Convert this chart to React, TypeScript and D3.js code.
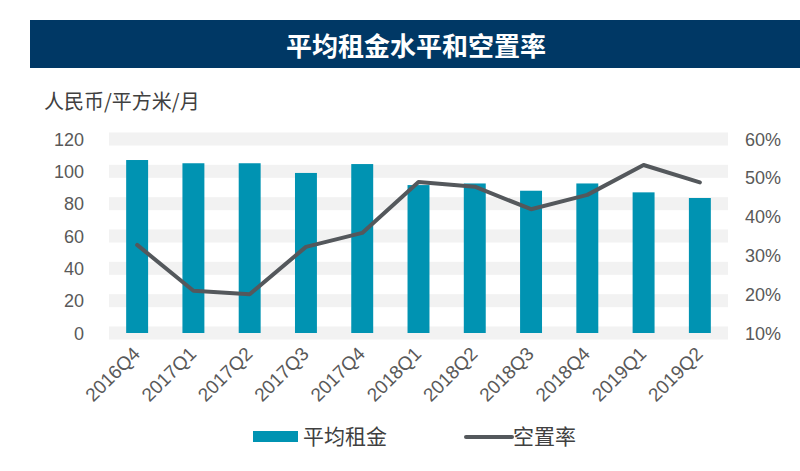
import React from "react";
import * as d3 from "d3";

const categories = ["2016Q4","2017Q1","2017Q2","2017Q3","2017Q4","2018Q1","2018Q2","2018Q3","2018Q4","2019Q1","2019Q2"];
const rentValues = [107, 105, 105, 99, 104.5, 91.5, 92.5, 88, 92.5, 87, 83.5];
const vacancyValues = [32.7, 20.9, 20.0, 32.2, 35.8, 48.9, 47.7, 41.9, 45.6, 53.3, 48.8];
const leftTicks = [0, 20, 40, 60, 80, 100, 120];
const rightTicks = [10, 20, 30, 40, 50, 60];

const W = 800, H = 471;
const plotL = 109, plotR = 728, plotT = 139, plotB = 333;
const font = "'Liberation Sans', Arial, 'Noto Sans CJK SC', sans-serif";
const cjk = "'Noto Sans CJK SC', 'Liberation Sans', sans-serif";

export default function App() {
  const x = d3.scaleBand<string>().domain(categories).range([plotL, plotR]).paddingInner(0.61).paddingOuter(0.305);
  const yL = d3.scaleLinear().domain([0, 120]).range([plotB, plotT]);
  const yR = d3.scaleLinear().domain([10, 60]).range([plotB, plotT]);
  const cx = (c: string) => (x(c) as number) + x.bandwidth() / 2;
  const line = d3.line<number>().x((_, i) => cx(categories[i])).y((d) => yR(d));

  return (
    <svg width={W} height={H} style={{ position: "absolute", left: 0, top: 0 }}>
      <rect x={0} y={0} width={W} height={H} fill="#fff" />
      <rect x={30} y={20} width={770} height={48} fill="#003865" />
      <text x={416} y={56} textAnchor="middle" fill="#fff" fontFamily={cjk} fontWeight="bold" fontSize={26}>平均租金水平和空置率</text>
      <text x={44} y={109} fill="#404040" fontFamily={cjk} fontSize={20}>人民币/平方米/月</text>
      {leftTicks.map((t) => (
        <rect key={"g" + t} x={plotL} y={yL(t) - 6.5} width={plotR - plotL} height={13} fill="#f2f2f2" />
      ))}
      {leftTicks.map((t) => (
        <text key={"l" + t} x={84} y={yL(t) + 6.5} textAnchor="end" fill="#595959" fontFamily={font} fontSize={18}>{t}</text>
      ))}
      {rightTicks.map((t) => (
        <text key={"r" + t} x={745} y={yR(t) + 6.5} textAnchor="start" fill="#595959" fontFamily={font} fontSize={18}>{t}%</text>
      ))}
      {categories.map((c, i) => (
        <rect key={"b" + c} x={x(c)} y={yL(rentValues[i])} width={x.bandwidth()} height={plotB - yL(rentValues[i])} fill="#0093b2" />
      ))}
      <path d={line(vacancyValues) || ""} fill="none" stroke="#54585c" strokeWidth={4} strokeLinejoin="round" strokeLinecap="round" />
      {categories.map((c) => (
        <text key={"x" + c} transform={`translate(${cx(c) + 4},${355}) rotate(-45)`} textAnchor="end" fill="#595959" fontFamily={font} fontSize={19}>{c}</text>
      ))}
      <rect x={253} y={431} width={45} height={11} fill="#0093b2" />
      <text x={303} y={444} fill="#404040" fontFamily={cjk} fontSize={21}>平均租金</text>
      <line x1={466} y1={437} x2={512} y2={437} stroke="#54585c" strokeWidth={4} strokeLinecap="round" />
      <text x={513} y={444} fill="#404040" fontFamily={cjk} fontSize={21}>空置率</text>
    </svg>
  );
}
